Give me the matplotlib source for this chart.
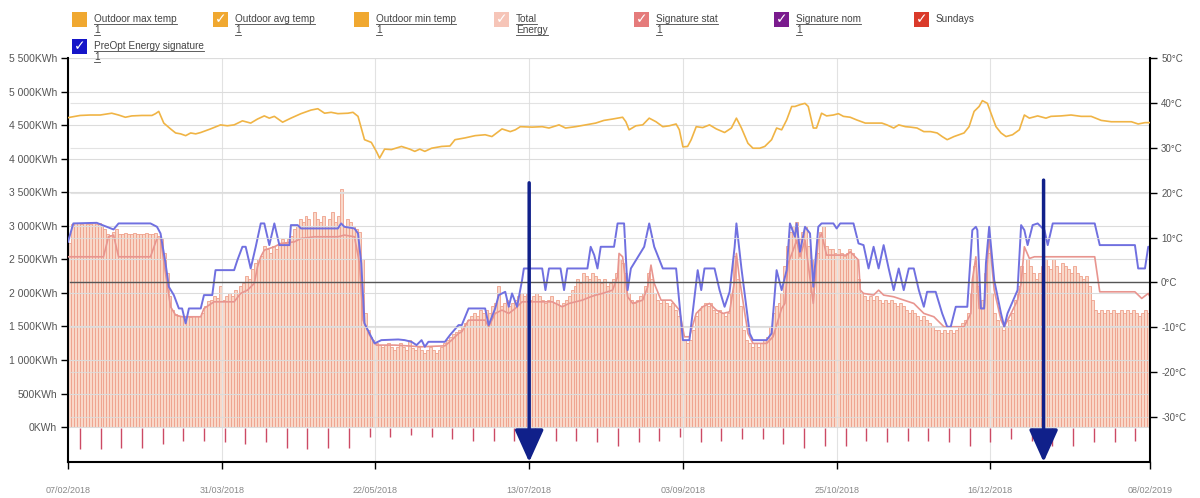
import numpy as np
import matplotlib.pyplot as plt
from matplotlib.patches import Rectangle
from matplotlib.lines import Line2D

plt.rcParams['font.family'] = ['Liberation Sans', 'DejaVu Sans']

# x axis: days counted from 07/02/2018
date_ticks = [0, 52, 104, 156, 208, 260, 312, 366]
date_labels = ['07/02/2018', '31/03/2018', '22/05/2018', '13/07/2018',
               '03/09/2018', '25/10/2018', '16/12/2018', '08/02/2019']

# daily total energy (kWh), one row per week
total_energy = [
    2750, 3030, 3040, 3040, 3030, 3040, 3030,
    3030, 3040, 3030, 3040, 3000, 2950, 2880,
    2860, 2900, 2950, 2880, 2880, 2890, 2880,
    2880, 2890, 2880, 2880, 2880, 2890, 2880,
    2880, 2890, 2850, 2800, 2600, 2300, 1950,
    1750, 1680, 1660, 1650, 1640, 1650, 1640,
    1650, 1660, 1650, 1700, 1800, 1880, 1900,
    1950, 1920, 2100, 1900, 1950, 2000, 1960,
    2050, 2000, 2100, 2150, 2250, 2200, 2350,
    2450, 2500, 2550, 2700, 2650, 2600, 2700,
    2650, 2750, 2800, 2750, 2800, 2850, 2950,
    3000, 3100, 3050, 3150, 3100, 3000, 3200,
    3100, 3050, 3150, 3000, 3100, 3200, 3050,
    3150, 3550, 3000, 3100, 3050, 3000, 2950,
    2900, 2500, 1700, 1450, 1350, 1300, 1250,
    1230, 1200, 1220, 1250, 1200, 1150, 1200,
    1250, 1200, 1150, 1300, 1180, 1150, 1200,
    1150, 1100, 1150, 1200, 1150, 1100, 1150,
    1200, 1250, 1300, 1350, 1380, 1420, 1450,
    1500, 1550, 1600, 1650, 1700, 1650, 1750,
    1700, 1750, 1700, 1800, 1850, 2100, 1800,
    1850, 1900, 1800, 1850, 1900, 1950, 2000,
    1950, 2000, 1900, 1950, 2000, 1950, 1900,
    1850, 1900, 1950, 1850, 1900, 1800, 1850,
    1900, 1950, 2050, 2100, 2200, 2150, 2300,
    2250, 2200, 2300, 2250, 2200, 2150, 2200,
    2100, 2150, 2200, 2300, 2500, 2450, 2300,
    2000, 1900, 1850, 1900, 1950, 2000, 2100,
    2300, 2200, 2000, 1900, 1850, 1900, 1850,
    1800, 1850, 1750, 1650, 1450, 1300, 1250,
    1300, 1450, 1650, 1750, 1800, 1850, 1800,
    1850, 1750, 1700, 1750, 1700, 1650, 1700,
    2000, 2550, 2200, 1800, 1450, 1300, 1250,
    1200, 1250, 1200, 1250, 1300, 1350, 1500,
    1700, 1800, 1850, 2000, 2400, 2700, 2900,
    3000, 3050, 2800, 2900, 3000, 2700, 2500,
    2000, 2600, 2900, 3000, 2700, 2650, 2650,
    2600, 2650, 2600, 2550, 2600, 2650, 2600,
    2500, 2200, 2000, 1950, 1900, 1950, 1900,
    1950, 1900, 1850, 1900, 1850, 1900, 1850,
    1800, 1850, 1800, 1750, 1700, 1750, 1700,
    1650, 1600, 1650, 1600, 1550, 1500, 1450,
    1450, 1400, 1450, 1400, 1450, 1400, 1450,
    1500, 1550, 1600, 1700, 2000, 2400, 2100,
    1800, 1900, 2300, 2600, 2000, 1700, 1600,
    1500, 1450, 1500, 1600, 1700, 1900, 2100,
    2400, 2300, 2500, 2400, 2300, 2200, 2300,
    2400, 2500, 2400, 2350, 2500, 2400, 2300,
    2450, 2400, 2350, 2300, 2400, 2300, 2250,
    2200, 2250, 2100, 1900, 1750, 1700, 1750,
    1700, 1750, 1700, 1750, 1700, 1700, 1750,
    1700, 1750, 1700, 1750, 1700, 1650, 1700,
    1750, 1700,
]
days = np.arange(len(total_energy))

# Sundays (first one 11/02/2018) and the length of their marks below zero
sunday_days = list(range(4, 366, 7))
sunday_len = [325, 325, 314, 314, 257, 211, 211, 228, 245, 228,
              314, 325, 314, 314, 143, 143, 114, 143, 171, 200,
              200, 200, 200, 200, 200, 228, 285, 228, 200, 143,
              228, 200, 171, 171, 257, 314, 285, 285, 200, 228,
              200, 200, 228, 285, 228, 171, 200, 285, 285, 228,
              228, 200]

# PreOpt energy signature (kWh)
pre_days = [0, 1.8, 9.7, 13.1, 15.4, 17.1, 27.9, 30.1, 31.3, 33.0, 34.1, 35.8,
            37.5, 38.6, 39.8, 40.9, 44.9, 46.0, 48.8, 49.9, 56.2, 57.3, 59.0,
            60.1, 61.8, 63.5, 65.2, 66.4, 68.1, 69.8, 71.5, 74.9, 75.4, 77.7,
            78.8, 91.3, 92.4, 93.5, 96.9, 98.1, 99.2, 100.3, 103.7, 106.0,
            111.7, 113.9, 116.2, 117.9, 119.6, 120.7, 121.9, 127.5, 129.2,
            132.1, 133.2, 135.5, 141.1, 142.3, 144.5, 145.7, 147.9, 149.1,
            150.2, 151.9, 153.6, 154.2, 160.4, 161.5, 162.7, 166.6, 167.8,
            168.9, 175.7, 176.8, 178.0, 179.1, 180.2, 184.7, 185.9, 188.1,
            189.3, 190.4, 194.9, 196.6, 198.3, 201.2, 205.7, 208.0, 210.2,
            213.0, 214.2, 215.3, 218.7, 220.4, 222.1, 223.8, 225.5, 226.1,
            227.8, 230.6, 231.7, 236.3, 238.0, 239.7, 241.4, 243.1, 244.2,
            245.9, 246.5, 247.6, 249.3, 251.0, 252.1, 253.8, 254.9, 258.9,
            260.0, 261.2, 265.7, 267.4, 269.1, 270.8, 272.5, 274.2, 275.9,
            277.6, 279.3, 281.0, 282.7, 284.4, 286.1, 287.8, 289.5, 290.6,
            293.5, 295.7, 297.4, 298.6, 300.3, 304.2, 305.9, 307.1, 307.6,
            308.8, 309.9, 310.5, 311.6, 313.3, 315.6, 316.7, 317.8, 321.2,
            322.4, 323.5, 324.6, 326.3, 328.0, 330.3, 331.4, 333.1, 347.3,
            349.0, 360.9, 362.0, 364.3, 365.4, 366.0]
pre_kwh = [2761, 3035, 3044, 2985, 2945, 3035, 3035, 2985, 2886, 2439, 2091, 1967,
           1768, 1768, 1545, 1768, 1768, 1967, 1967, 2339, 2339, 2488, 2687,
           2687, 2364, 2687, 3035, 3035, 2712, 3035, 2712, 2712, 3010, 3010,
           2960, 2960, 3035, 2985, 2960, 2886, 2439, 1545, 1247, 1296,
           1306, 1296, 1271, 1222, 1296, 1197, 1271, 1271, 1371,
           1520, 1520, 1768, 1768, 1520, 1768, 1967, 2016, 1793,
           1992, 1793, 2190, 2364, 2364, 2041, 2364, 2364, 2041,
           2364, 2364, 2687, 2563, 2364, 2687, 2687, 3035, 3035,
           2041, 2364, 2687, 3035, 2687, 2364, 2364, 1296, 1296,
           2339, 2041, 2364, 2364, 2041, 1793, 2016, 2687, 3035,
           2364, 1396, 1296, 1296, 1396, 2339, 2041, 2339, 3035,
           2836, 3035, 2612, 2985, 2886, 2091, 2985, 3035, 3035,
           2960, 3035, 3035, 2737, 2712, 2364, 2687, 2364, 2712,
           2364, 2041, 2364, 2041, 2364, 2364, 2041, 1793, 2016,
           2016, 1694, 1495, 1495, 1793, 1793, 2935, 2985, 2935,
           1768, 1768, 2439, 2985, 2190, 1694, 1495, 1694, 2041,
           3010, 2935, 2712, 3010, 3035, 2935, 2712, 3035, 3035,
           2712, 2712, 2364, 2364, 2687, 2687]

# Signature stat (kWh)
stat_days = [0, 12.0, 13.7, 15.4, 17.1, 27.9, 30.1, 31.3, 33.0, 34.7, 36.4, 38.6,
             44.9, 46.0, 49.4, 56.2, 58.4, 60.7, 63.0, 64.1, 65.2, 66.4, 69.8,
             72.0, 76.6, 78.8, 83.3, 91.3, 93.5, 96.9, 98.6, 99.8, 102.0, 104.3,
             110.6, 119.6, 127.5, 129.8, 132.1, 133.2, 135.5, 141.1, 142.3,
             144.5, 146.8, 149.1, 151.3, 153.6, 163.8, 167.2, 169.5, 174.0,
             176.8, 178.5, 180.8, 184.2, 185.9, 186.4, 187.6, 189.3, 191.0,
             194.4, 196.1, 197.2, 198.3, 200.6, 204.0, 206.8, 208.5, 210.2,
             212.5, 214.7, 217.0, 219.3, 221.6, 223.8, 225.5, 226.1, 227.2,
             230.0, 231.7, 236.3, 238.5, 241.4, 242.5, 243.6, 245.3, 246.5,
             247.6, 249.3, 252.1, 253.8, 254.9, 256.6, 263.4, 264.6, 265.7,
             267.4, 268.0, 269.1, 272.5, 274.2, 275.9, 279.3, 282.7, 286.1,
             289.5, 292.9, 296.3, 303.1, 305.4, 305.9, 307.1, 308.2, 309.9,
             311.6, 313.3, 315.6, 316.7, 319.0, 321.2, 322.4, 323.5, 325.2,
             326.9, 347.3, 349.0, 360.9, 363.2, 365.4, 366.0]
stat_kwh = [2538, 2538, 2836, 2861, 2538, 2538, 2811, 2811, 2290, 1793, 1669, 1644,
            1644, 1768, 1867, 1867, 1992, 2041, 2141, 2388, 2538, 2637, 2687,
            2737, 2761, 2811, 2836, 2836, 2861, 2836, 2439, 1594, 1371, 1222,
            1222, 1197, 1211, 1296, 1396, 1420, 1594, 1594, 1495,
            1694, 1743, 1694, 1768, 1867, 1867, 1793, 1843, 1892,
            1942, 1967, 1992, 2041, 2240, 2588, 2538, 1942, 1843,
            1892, 2091, 2414, 2141, 1892, 1892, 1743, 1346, 1346,
            1694, 1793, 1843, 1743, 1694, 1718, 2190, 2588, 2190,
            1396, 1247, 1247, 1346, 1768, 1843, 2439, 2637, 2786,
            2538, 2786, 1843, 2786, 2886, 2563, 2563, 2612, 2563,
            2488, 2041, 1992, 1967, 2041, 1967, 1942, 1892, 1843,
            1694, 1644, 1495, 1495, 1694, 2190, 2538, 1768, 1768,
            2836, 2041, 1594, 1495, 1694, 1892, 2141, 2687, 2513,
            2538, 2538, 2016, 2016, 1917, 1992, 1942]

# Outdoor avg temp (degC, right axis)
temp_days = [0, 0.7, 4.1, 7.5, 10.9, 14.8, 17.1, 19.4, 21.6, 25.0, 28.4, 29.6, 30.7,
             32.4, 34.7, 36.4, 38.1, 39.8, 41.5, 43.2, 44.9, 48.2, 51.6, 53.9, 56.2,
             59.0, 61.8, 64.1, 66.4, 68.1, 69.8, 72.6, 75.4, 78.8, 82.2, 84.5, 86.8,
             89.0, 91.3, 94.7, 96.4, 98.1, 100.3, 102.6, 104.3, 105.4, 107.1, 109.4,
             112.8, 115.6, 117.3, 119.0, 120.7, 123.0, 126.4, 129.2, 130.9, 134.3,
             137.7, 141.1, 143.4, 146.8, 149.6, 151.3, 153.0, 157.0, 160.4, 162.7,
             166.1, 168.3, 171.7, 175.1, 178.5, 181.3, 184.2, 187.6, 188.7, 189.8,
             192.1, 194.4, 196.6, 198.9, 201.2, 203.4, 205.7, 206.8, 208.0, 209.6,
             210.8, 212.5, 214.7, 217.0, 219.3, 222.1, 224.4, 226.1, 227.8, 230.0,
             231.7, 234.0, 235.7, 238.0, 239.7, 241.4, 243.1, 244.8, 245.9, 247.6,
             249.3, 250.4, 252.1, 253.2, 254.9, 256.6, 258.9, 260.6, 262.3, 264.6,
             266.8, 269.7, 272.5, 275.3, 277.0, 279.3, 281.0, 283.3, 285.0, 287.2,
             289.5, 291.8, 294.0, 295.7, 297.4, 299.7, 303.1, 304.8, 306.5, 308.2,
             309.3, 311.0, 312.2, 313.9, 315.6, 317.3, 319.5, 321.8, 323.5, 325.2,
             328.0, 330.8, 332.5, 335.9, 339.3, 342.7, 346.1, 349.5, 352.9, 356.3,
             359.7, 362.0, 364.3, 366.0]
temp_avg = [36.7, 36.8, 37.2, 37.3, 37.3, 37.7, 37.3, 36.8, 37.1, 37.2, 37.2, 37.6, 38.1,
            35.5, 34.2, 33.3, 33.1, 32.7, 33.3, 33.1, 33.4, 34.2, 35.1, 34.9, 35.1,
            36.0, 35.5, 36.4, 37.1, 36.6, 37.0, 35.7, 36.6, 37.6, 38.4, 38.7, 37.7,
            37.9, 37.6, 37.7, 37.9, 37.0, 31.8, 31.2, 29.2, 27.7, 29.7, 29.6,
            30.3, 29.7, 29.2, 29.7, 29.2, 29.9, 30.3, 30.4, 31.8, 32.2,
            32.7, 32.9, 32.5, 34.2, 33.6, 34.0, 34.7, 34.6, 34.7, 34.4,
            35.1, 34.4, 34.7, 35.1, 35.5, 36.1, 36.4, 36.8, 35.8, 34.0,
            34.9, 35.1, 36.6, 35.8, 34.7, 34.9, 35.3, 34.0, 30.2, 30.3,
            31.8, 34.7, 34.5, 35.1, 34.2, 33.4, 34.4, 36.6, 34.4, 31.0,
            29.9, 29.9, 30.3, 31.8, 34.4, 34.0, 36.2, 39.2, 39.2, 39.6,
            39.9, 39.2, 34.4, 34.4, 37.7, 37.1, 37.3, 37.6, 37.0, 36.8,
            36.2, 35.5, 35.5, 35.5, 35.1, 34.4, 35.1, 34.7, 34.6, 34.4,
            33.6, 33.6, 33.3, 32.5, 31.8, 32.5, 33.3, 34.7, 38.1, 39.2,
            40.5, 39.9, 37.7, 34.7, 33.3, 32.5, 32.9, 34.0, 37.3, 36.6,
            37.1, 36.6, 37.0, 37.1, 37.3, 37.0, 37.0, 36.1, 35.8, 35.8,
            35.8, 35.3, 35.6, 35.6]

# hand-drawn arrows (day, top in kWh)
arrow_days = [156, 330]
arrow_top = [3640, 3680]

kwh_ticks = list(range(0, 5501, 500))
temp_ticks = list(range(-30, 51, 10))

W, H = 1200, 498
fig = plt.figure(figsize=(W / 100, H / 100), dpi=100)
ax = fig.add_axes([68 / W, 1 - 462 / H, (1150 - 68) / W, (462 - 58) / H])
ax2 = ax.twinx()

ax.set_xlim(0, 366)
ax.set_ylim(-520, 5500)
ax2.set_ylim(-40, 50)

ax.bar(days, total_energy, width=1.0, align='edge', color='#F9D8C9',
       edgecolor='#EFA08B', linewidth=0.6, zorder=1)
ax.plot(stat_days, stat_kwh, color='#E8958F', lw=1.2, zorder=3)
ax.plot(pre_days, pre_kwh, color='#7070E0', lw=1.4, zorder=4)
ax.vlines(sunday_days, [-v for v in sunday_len], -15, color='#CC4A64', lw=1.0, zorder=3)
ax2.plot(temp_days, temp_avg, color='#F0B445', lw=1.2, zorder=3)

# temperature grid kept off the left spine
ax2.hlines(temp_ticks, 0.6, 365.4, color='#dcdcdc', lw=0.8, alpha=0.8, zorder=1)
ax2.axhline(0, xmin=0.002, xmax=0.998, color='#555555', lw=1.0, zorder=2)

for d, top in zip(arrow_days, arrow_top):
    ax2.annotate('', xy=(d, -520), xycoords=ax.transData,
                 xytext=(d, top), textcoords=ax.transData,
                 arrowprops=dict(arrowstyle='-|>,head_length=1.0,head_width=0.45',
                                 mutation_scale=20, color='#10208A', lw=2.5,
                                 shrinkA=0, shrinkB=0),
                 zorder=6, annotation_clip=False)

# axes, ticks, grid
ax.set_yticks(kwh_ticks)
ax.set_yticklabels([f'{v:,}'.replace(',', ' ') + 'KWh' for v in kwh_ticks])
ax.set_xticks(date_ticks, date_labels)
ax2.set_yticks(temp_ticks)
ax2.set_yticklabels([f'{v}°C' for v in temp_ticks])

ax.set_axisbelow('line')
ax.yaxis.grid(True, color='#dcdcdc', lw=0.8)
ax.xaxis.grid(True, color='#e2e2e2', lw=0.8)

ax.tick_params(axis='y', left=True, right=False, length=5, width=1,
               labelsize=7.5, labelcolor='#555555', pad=3)
ax.tick_params(axis='x', length=5, width=1, labelsize=6.5, labelcolor='#888888', pad=12)
ax2.tick_params(axis='y', left=False, right=True, length=5, width=1,
                labelsize=7, labelcolor='#555555', pad=3)

for sp in ['top', 'right']:
    ax.spines[sp].set_visible(False)
for sp in ['top', 'left', 'bottom']:
    ax2.spines[sp].set_visible(False)
for sp in [ax.spines['left'], ax.spines['bottom'], ax2.spines['right']]:
    sp.set_color('black')
    sp.set_linewidth(1.5)

# checkbox legend on top
legend_items = [
    (72, 12, '#F0A830', False, ['Outdoor max temp', '1']),
    (213, 12, '#F0A830', True, ['Outdoor avg temp', '1']),
    (354, 12, '#F0A830', False, ['Outdoor min temp', '1']),
    (494, 12, '#F6C5B8', True, ['Total', 'Energy']),
    (634, 12, '#E57B7B', True, ['Signature stat', '1']),
    (774, 12, '#7A1B8E', True, ['Signature nom', '1']),
    (914, 12, '#DA3A2A', True, ['Sundays']),
    (72, 39, '#1515C8', True, ['PreOpt Energy signature', '1']),
]

renderer = fig.canvas.get_renderer()
for bx, by, col, checked, lines in legend_items:
    fig.add_artist(Rectangle((bx / W, 1 - (by + 15) / H), 15 / W, 15 / H,
                             transform=fig.transFigure, color=col, lw=0))
    if checked:
        fig.text((bx + 7.5) / W, 1 - (by + 7.5) / H, '✓', color='white',
                 fontsize=10, fontweight='bold', ha='center', va='center',
                 family='DejaVu Sans')
    for i, s in enumerate(lines):
        ty = by + 7 + i * 11
        t = fig.text((bx + 22) / W, 1 - ty / H, s, fontsize=7.2,
                     color='#444444', ha='left', va='center')
        if len(lines) > 1:
            bb = t.get_window_extent(renderer)
            fig.add_artist(Line2D([bb.x0 / W, bb.x1 / W],
                                  [(bb.y0 - 0.5) / H, (bb.y0 - 0.5) / H],
                                  transform=fig.transFigure, color='#444444', lw=0.6))

fig.savefig('out.png', dpi=100)
